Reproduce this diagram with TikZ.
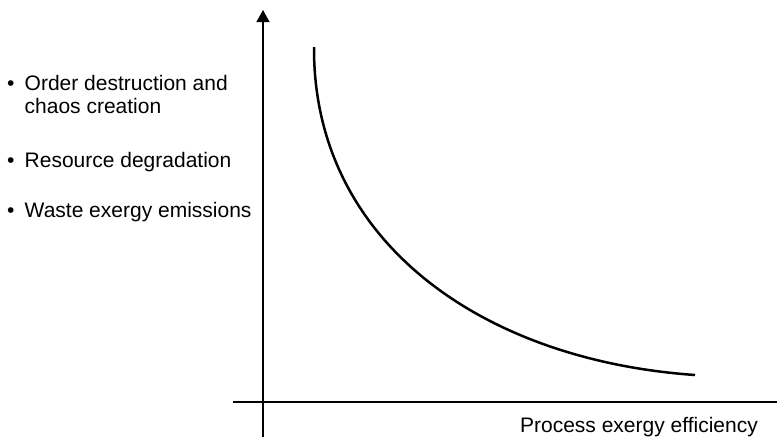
\documentclass[tikz,border=0pt]{standalone}
\usepackage{fontspec}
\setmainfont{Liberation Sans}
\usepackage{tikz}
\usetikzlibrary{arrows.meta}

\tikzset{
  itemtext/.style={anchor=base west, inner sep=0pt, align=left,
    font=\fontsize{21}{22.7}\selectfont},
  axis/.style={line width=1.3pt},
  curve/.style={line width=2.5pt}
}
\newcommand{\bul}{\makebox[17.5pt][l]{\textbullet}}

\begin{document}
\begin{tikzpicture}[x=1pt,y=-1pt]
\useasboundingbox (0,0) rectangle (777,437);

\coordinate (yfoot) at (263,437);
\coordinate (ytop) at (263,10);
\coordinate (xleft) at (233,402);
\coordinate (xright) at (777,402);
\coordinate (cstart) at (314,47);
\coordinate (cend) at (695,375);

\draw[axis] (xleft) -- (xright);
\draw[axis,-{Triangle[length=12pt,width=13pt]}] (yfoot) -- (ytop);

\draw[curve] (cstart) .. controls (313,240) and (480,360) .. (cend);

% last line of a multi-line node sits on the base anchor
\node[itemtext] (order) at (7,113.4) {\bul Order destruction and\\\hphantom{\bul}chaos creation};
\node[itemtext] (resource) at (7,167) {\bul Resource degradation};
\node[itemtext] (waste) at (7,217.5) {\bul Waste exergy emissions};

\node[itemtext, anchor=base east] (xlabel) at (758,432) {Process exergy efficiency};
\end{tikzpicture}
\end{document}
